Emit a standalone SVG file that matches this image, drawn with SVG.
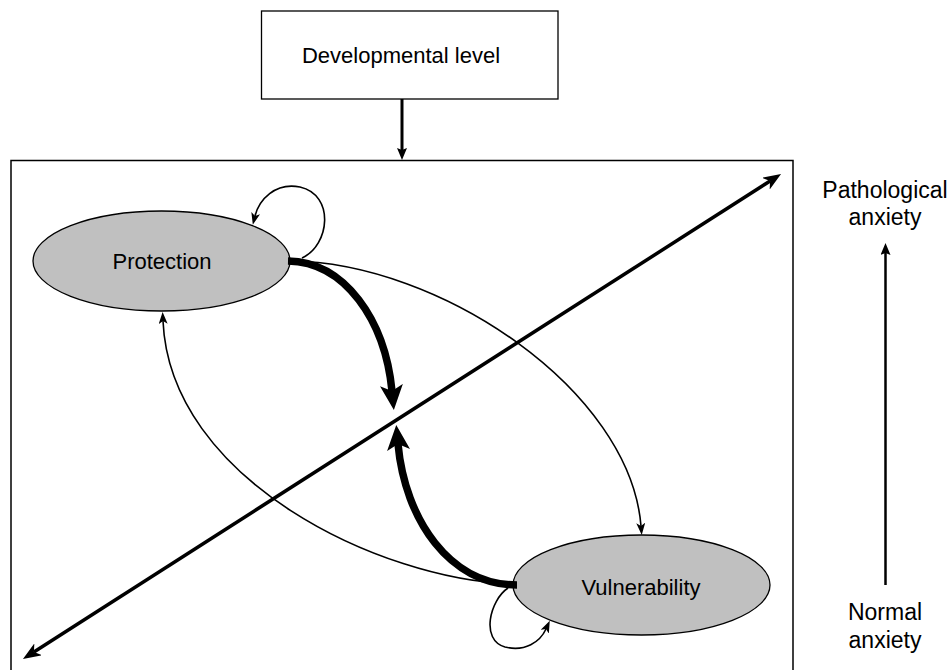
<svg xmlns="http://www.w3.org/2000/svg" width="948" height="670" viewBox="0 0 948 670">
<style>
text{font-family:"Liberation Sans",Arial,sans-serif;fill:#000;text-anchor:middle}
.node text{font-size:22px}
.lbl{font-size:23px}
.ell{fill:#c0c0c0;stroke:#000;stroke-width:1.3}
.box{fill:#fff;stroke:#000;stroke-width:1.3}
.thin{fill:none;stroke:#000;stroke-width:1.6}
.thick{fill:none;stroke:#000;stroke-width:7.5;stroke-linecap:butt}
</style>
<defs>
<marker id="mThin" markerUnits="userSpaceOnUse" markerWidth="12" markerHeight="9" refX="3" refY="4.5" orient="auto"><path d="M0,0 L12,4.5 L0,9 L3,4.5 z" fill="#000"/></marker>
<marker id="mThick" markerUnits="userSpaceOnUse" markerWidth="25" markerHeight="23" refX="6" refY="11.5" orient="auto"><path d="M0,0 L25,11.5 L0,23 L6,11.5 z" fill="#000"/></marker>
<marker id="mDiag" markerUnits="userSpaceOnUse" markerWidth="18" markerHeight="14" refX="5" refY="7" orient="auto-start-reverse"><path d="M0,0 L18,7 L0,14 L5,7 z" fill="#000"/></marker>
<marker id="mMid" markerUnits="userSpaceOnUse" markerWidth="12" markerHeight="10" refX="2" refY="5" orient="auto"><path d="M0,0 L12,5 L0,10 L2,5 z" fill="#000"/></marker>
</defs>
<rect width="948" height="670" fill="#fff"/>
<path id="frame" d="M11,680 L11,160.5 L793,160.5 L793,680" fill="none" stroke="#000" stroke-width="1.5"/>
<g id="developmental" class="node">
<rect class="box" x="261.5" y="11" width="296.5" height="88"/>
<text x="401" y="63">Developmental level</text>
</g>
<g id="protection" class="node">
<ellipse class="ell" cx="161.5" cy="261" rx="128.5" ry="50"/>
<text x="162" y="269">Protection</text>
</g>
<g id="vulnerability" class="node">
<ellipse class="ell" cx="641.5" cy="585" rx="128.5" ry="50"/>
<text x="641" y="595">Vulnerability</text>
</g>
<g id="connectors">
<path d="M402,99 L402,150" fill="none" stroke="#000" stroke-width="3" marker-end="url(#mMid)"/>
<path d="M33.9,652 L770.1,181" fill="none" stroke="#000" stroke-width="3.5" marker-start="url(#mDiag)" marker-end="url(#mDiag)"/>
<path class="thin" d="M290,261 C440,262 630,390 641,526" marker-end="url(#mThin)"/>
<path class="thin" d="M513,584 C380,580 170,480 163,321" marker-end="url(#mThin)"/>
<path class="thin" d="M302,258 C330,245 335,195 300,187 C275,182 259,200 255,216" marker-end="url(#mThin)"/>
<path class="thin" d="M508,588 C490,600 480,640 505,647 C525,652 540,642 546,629" marker-end="url(#mThin)"/>
<path class="thick" d="M288,261 C345,262 385,320 392,391" marker-end="url(#mThick)"/>
<path class="thick" d="M517,585 C450,585 405,520 398,444" marker-end="url(#mThick)"/>
<path d="M885.5,585 L885.5,253" fill="none" stroke="#000" stroke-width="2.5" marker-end="url(#mMid)"/>
</g>
<g id="labels">
<text class="lbl" x="885" y="198">Pathological</text>
<text class="lbl" x="885" y="225">anxiety</text>
<text class="lbl" x="885" y="620">Normal</text>
<text class="lbl" x="885" y="648">anxiety</text>
</g>
</svg>
